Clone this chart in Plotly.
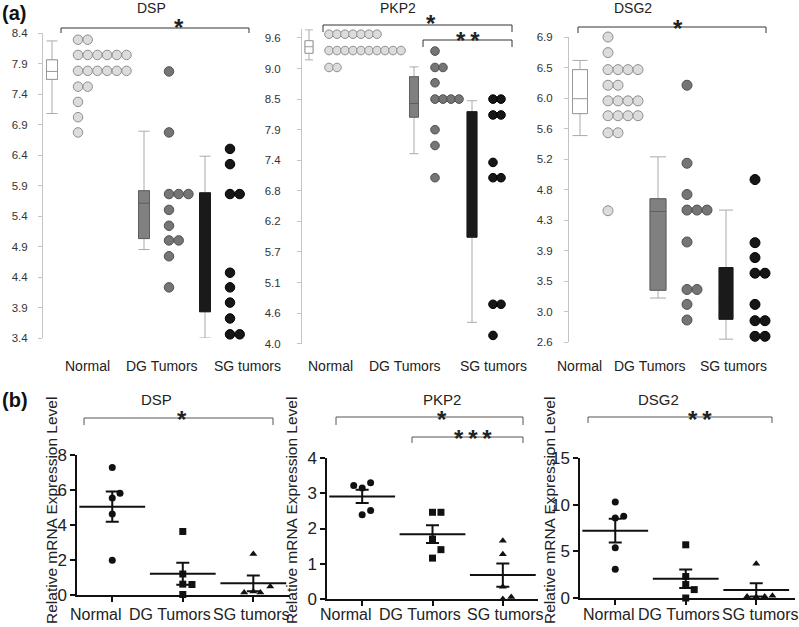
import plotly.graph_objects as go

W, H = 799, 627
def X(px): return px / W
def Y(py): return 1 - py / H

FONT = "Liberation Sans, Arial, sans-serif"
groups = ["Normal", "DG Tumors", "SG tumors"]
genes = ["DSP", "PKP2", "DSG2"]

# ---------------- Panel (a): dot rows (binned values) and counts ----------------
dsp_rows = [[8.29, 8.04, 7.78, 7.52, 7.27, 7.02, 6.77],
            [7.77, 6.77, 5.76, 5.50, 5.24, 5.00, 4.74, 4.23],
            [6.50, 6.25, 5.76, 4.47, 4.23, 3.98, 3.72, 3.46]]
dsp_counts = [[2, 6, 6, 2, 1, 1, 1], [1, 1, 3, 1, 1, 2, 1, 1], [1, 1, 2, 1, 1, 1, 1, 2]]

pkp2_rows = [[9.67, 9.37, 9.06],
             [9.36, 9.06, 8.78, 8.48, 7.92, 7.63, 7.04],
             [8.48, 8.19, 7.32, 7.04, 4.72, 4.15]]
pkp2_counts = [[7, 10, 2], [1, 2, 1, 4, 1, 1, 1], [2, 2, 1, 2, 2, 1]]

dsg2_rows = [[6.90, 6.68, 6.44, 6.22, 6.00, 5.79, 5.55, 4.45],
             [6.22, 5.12, 4.68, 4.46, 4.01, 3.34, 3.13, 2.91],
             [4.89, 4.00, 3.79, 3.57, 3.13, 2.90, 2.68]]
dsg2_counts = [[1, 1, 4, 2, 4, 4, 2, 1], [1, 1, 1, 3, 1, 2, 1, 1], [1, 1, 1, 2, 1, 2, 2]]

# box statistics: lower whisker, q1, median, q3, upper whisker
dsp_box = [[7.08, 7.64, 7.77, 7.96, 8.27], [4.85, 5.03, 5.61, 5.815, 6.79], [3.40, 3.83, 4.07, 5.78, 6.38]]
pkp2_box = [[9.20, 9.32, 9.44, 9.55, 9.75], [7.48, 8.15, 8.40, 8.89, 9.07], [4.39, 5.95, 7.50, 8.25, 8.45]]
dsg2_box = [[5.51, 5.82, 6.03, 6.44, 6.57], [3.22, 3.33, 4.44, 4.62, 5.21], [2.64, 2.92, 3.24, 3.65, 4.46]]

# y tick labels of panel (a)
dsp_ticks = ["3.4", "3.9", "4.4", "4.9", "5.4", "5.9", "6.4", "6.9", "7.4", "7.9", "8.4"]
pkp2_ticks = ["4.0", "4.6", "5.1", "5.7", "6.2", "6.8", "7.4", "7.9", "8.5", "9.0", "9.6"]
dsg2_ticks = ["2.6", "3.0", "3.5", "3.9", "4.3", "4.8", "5.2", "5.6", "6.0", "6.5", "6.9"]
a_ranges = [(3.4, 0.5), (4.0, 0.56), (2.6, 0.43)]  # start, step of tick grid
a_top_extra = [0.0, 0.16, 0.0]                      # axis line continues above top tick

# ---------------- Panel (b): qPCR values ----------------
dsp_b = [[7.28, 5.82, 5.54, 4.63, 1.98], [3.63, 1.20, 0.62, 0.60, 0.03], [2.35, 0.15, 0.20, 0.15, 0.48]]
pkp2_b = [[3.22, 3.15, 3.30, 2.39, 2.51], [2.46, 2.46, 1.70, 1.40, 1.16], [1.65, 1.27, 0.35, 0.00, 0.06]]
dsg2_b = [[10.29, 8.57, 8.75, 5.39, 3.07], [5.70, 2.30, 1.45, 0.90, 0.00], [3.68, 0.15, 0.10, 0.15, 0.25]]
dsp_mean, dsp_sem = [5.05, 1.22, 0.67], [0.87, 0.63, 0.45]
pkp2_mean, pkp2_sem = [2.91, 1.84, 0.68], [0.19, 0.25, 0.33]
dsg2_mean, dsg2_sem = [7.21, 2.07, 0.87], [1.27, 0.99, 0.71]
b_yticks = [[0, 2, 4, 6, 8], [0, 1, 2, 3, 4], [0, 5, 10, 15]]
b_ymax = [8, 4, 15]

# ---------------- styling / layout ----------------
dot_fill = ["#dcdcdc", "#757575", "#161616"]
dot_line = ["#8e8e8e", "#505050", "#000000"]
box_fill = ["#ffffff", "#808080", "#1a1a1a"]
box_line = ["#999999", "#5e5e5e", "#1a1a1a"]
whisk_col = "#aaaaaa"

# top panels: axis-line x, right edge, y of top tick, y of bottom tick (px)
a_geo = [(43, 262, 33, 338), (302, 522, 38, 343.6), (569, 790, 37, 342)]
a_standoff = [8, 14, 9]
a_box_x = [[9, 101, 162], [7, 112, 170], [11, 89, 157]]
a_dot_x = [[35, 126, 187], [27, 133, 191], [39, 118, 186]]
a_dot_step = [9.7, 8.0, 10.0]
a_dot_size = [9.5, 8.6, 10]
a_box_w = [[11, 11, 11], [8, 9, 10], [15, 16, 14]]

b_geo = [(77, 290, 455, 595, 2.52), (327, 538, 458, 599, 2.5), (580, 795, 458, 598, 2.55)]
b_offsets = [[[0, 0.11, 0, 0, 0], [0, 0, 0, 0.13, 0], [0, -0.13, 0, 0.1, 0.24]],
             [[-0.12, 0, 0.12, 0, 0.12], [0, 0.12, 0, 0.12, 0], [0, 0, 0, 0, 0.12]],
             [[0, 0, 0.12, 0, 0], [0, 0, 0, 0.12, 0], [0, -0.13, 0, 0.12, 0.23]]]
symbols = ["circle", "square", "triangle-up"]

fig = go.Figure()
layout = dict(template="none", width=W, height=H,
              margin=dict(l=0, r=0, t=0, b=0, autoexpand=False),
              paper_bgcolor="white", plot_bgcolor="rgba(0,0,0,0)",
              showlegend=False, font=dict(family=FONT, color="#222"), boxmode="overlay")
annotations, shapes = [], []

a_rows = [dsp_rows, pkp2_rows, dsg2_rows]
a_counts = [dsp_counts, pkp2_counts, dsg2_counts]
a_boxes = [dsp_box, pkp2_box, dsg2_box]
a_ticks = [dsp_ticks, pkp2_ticks, dsg2_ticks]

for p in range(3):
    xa, ya = f"x{p+1}", f"y{p+1}"
    x0, x1, yt, yb = a_geo[p]
    start, step = a_ranges[p]
    tickvals = [start + k * step for k in range(len(a_ticks[p]))]
    top = tickvals[-1] + a_top_extra[p]
    pxper = (yb - yt) / (tickvals[-1] - tickvals[0])
    ytop_px = yt - a_top_extra[p] * pxper
    layout[f"xaxis{p+1}"] = dict(domain=[X(x0), X(x1)], range=[0, x1 - x0], visible=False,
                                 anchor=ya, fixedrange=True, automargin=False)
    layout[f"yaxis{p+1}"] = dict(domain=[Y(yb), Y(ytop_px)], range=[tickvals[0], top],
                                 anchor=xa, showline=True, linecolor="#c4c4c4", linewidth=1,
                                 ticks="outside", ticklen=4, tickcolor="#c4c4c4",
                                 ticklabelstandoff=a_standoff[p],
                                 tickvals=tickvals, ticktext=a_ticks[p], showgrid=False,
                                 zeroline=False, automargin=False,
                                 tickfont=dict(size=11.5, color="#333"))
    for g in range(3):
        lo, q1, med, q3, hi = a_boxes[p][g]
        bx = a_box_x[p][g]
        bw = a_box_w[p][g]
        # whiskers
        fig.add_trace(go.Box(x=[bx], q1=[q1], median=[med], q3=[q3], lowerfence=[lo],
                             upperfence=[hi], width=bw, whiskerwidth=1,
                             line=dict(color=whisk_col, width=1), fillcolor=box_fill[g],
                             xaxis=xa, yaxis=ya, hoverinfo="skip"))
        # body
        fig.add_trace(go.Box(x=[bx], q1=[q1], median=[med], q3=[q3], lowerfence=[q1],
                             upperfence=[q3], width=bw, whiskerwidth=0,
                             line=dict(color=box_line[g], width=1), fillcolor=box_fill[g],
                             xaxis=xa, yaxis=ya, hoverinfo="skip"))
        xs, ys = [], []
        for val, n in zip(a_rows[p][g], a_counts[p][g]):
            for k in range(n):
                xs.append(a_dot_x[p][g] + k * a_dot_step[p])
                ys.append(val)
        fig.add_trace(go.Scatter(x=xs, y=ys, mode="markers", xaxis=xa, yaxis=ya,
                                 cliponaxis=False,
                                 marker=dict(size=a_dot_size[p], color=dot_fill[g],
                                             line=dict(color=dot_line[g], width=1))))

# top category labels
a_lab_x = [[87, 162, 247], [330, 405, 493], [579, 650, 733]]
for p in range(3):
    for g in range(3):
        annotations.append(dict(x=X(a_lab_x[p][g]), y=Y(366), xref="paper", yref="paper",
                                text=groups[g], showarrow=False, font=dict(size=14, color="#222"),
                                xanchor="center", yanchor="middle"))
# top titles
for txt, px in zip(genes, [151, 398, 633]):
    annotations.append(dict(x=X(px), y=Y(8), xref="paper", yref="paper", text=txt,
                            showarrow=False, font=dict(size=14, color="#222"),
                            xanchor="center", yanchor="middle"))

b_vals = [dsp_b, pkp2_b, dsg2_b]
b_means = [dsp_mean, pkp2_mean, dsg2_mean]
b_sems = [dsp_sem, pkp2_sem, dsg2_sem]
for p in range(3):
    i = p + 4
    xa, ya = f"x{i}", f"y{i}"
    x0, x1, yt, yb, xmax = b_geo[p]
    layout[f"xaxis{i}"] = dict(domain=[X(x0), X(x1)], range=[-0.5, xmax], anchor=ya,
                               showline=True, linecolor="#111", linewidth=1.5,
                               ticks="outside", ticklen=5, tickwidth=1.5, tickcolor="#111",
                               tickvals=[0, 1, 2], showticklabels=False, showgrid=False,
                               zeroline=False, automargin=False)
    layout[f"yaxis{i}"] = dict(domain=[Y(yb), Y(yt)], range=[0, b_ymax[p]], anchor=xa,
                               showline=True, linecolor="#111", linewidth=1.5,
                               ticks="outside", ticklen=5, tickwidth=1.5, tickcolor="#111",
                               tickvals=b_yticks[p], showgrid=False, zeroline=False,
                               automargin=False, tickfont=dict(size=17, color="#222"))
    for g in range(3):
        xs = [g + o for o in b_offsets[p][g]]
        fig.add_trace(go.Scatter(x=xs, y=b_vals[p][g], mode="markers", xaxis=xa, yaxis=ya,
                                 cliponaxis=False,
                                 marker=dict(symbol=symbols[g], size=7, color="#111")))
    fig.add_trace(go.Scatter(x=[0, 1, 2], y=b_means[p], mode="markers", xaxis=xa, yaxis=ya,
                             cliponaxis=False,
                             marker=dict(symbol="line-ew", size=47, color="#111",
                                         line=dict(color="#111", width=2)),
                             error_y=dict(type="data", array=b_sems[p], color="#111",
                                          thickness=2, width=6.5)))

# bottom category labels
b_lab_x = [[96, 170, 251], [346, 420, 505], [609, 679, 760]]
for p in range(3):
    for g in range(3):
        annotations.append(dict(x=X(b_lab_x[p][g]), y=Y(614), xref="paper", yref="paper",
                                text=groups[g], showarrow=False, font=dict(size=16, color="#222"),
                                xanchor="center", yanchor="middle"))
# bottom titles & y titles
for txt, px in zip(genes, [156, 442, 658]):
    annotations.append(dict(x=X(px), y=Y(399), xref="paper", yref="paper", text=txt,
                            showarrow=False, font=dict(size=15, color="#222"),
                            xanchor="center", yanchor="middle"))
for px in [51, 291, 549]:
    annotations.append(dict(x=X(px), y=Y(511), xref="paper", yref="paper",
                            text="Relative mRNA Expression Level", textangle=-90,
                            showarrow=False, font=dict(size=15.5, color="#222"),
                            xanchor="center", yanchor="middle"))

# panel letters
annotations.append(dict(x=X(0), y=Y(13), xref="paper", yref="paper", text="<b>(a)</b>",
                        showarrow=False, font=dict(size=20, color="#111"), xanchor="left", yanchor="middle"))
annotations.append(dict(x=X(0), y=Y(400), xref="paper", yref="paper", text="<b>(b)</b>",
                        showarrow=False, font=dict(size=20, color="#111"), xanchor="left", yanchor="middle"))

# significance brackets: x-left, x-right, y-top, y-bottom, stars, label-x, label-y, color
brackets = [(61, 249, 28, 33, 1, 179, 20, "#333"),
            (323, 512, 25, 32, 1, 431, 17, "#333"),
            (423, 512, 40, 47, 2, 468, 34, "#333"),
            (578, 766, 27, 33, 1, 678, 21, "#333"),
            (84, 273, 418, 425, 1, 182, 412, "#555"),
            (336, 523, 417, 425, 1, 442, 412, "#555"),
            (412, 523, 437, 443, 3, 473, 431, "#555"),
            (588, 772, 417, 423, 2, 700, 412, "#555")]
for xl, xr, yt, yb, nstar, lx, ly, col in brackets:
    shapes.append(dict(type="path", xref="paper", yref="paper",
                       path=f"M {X(xl)},{Y(yb)} L {X(xl)},{Y(yt)} L {X(xr)},{Y(yt)} L {X(xr)},{Y(yb)}",
                       line=dict(color=col, width=1)))
    label = "\u2009".join(["*"] * nstar)
    annotations.append(dict(x=X(lx), y=Y(ly + 7), xref="paper", yref="paper", text=f"<b>{label}</b>",
                            showarrow=False, font=dict(size=24, color="#222"),
                            xanchor="center", yanchor="middle"))

layout["annotations"] = annotations
layout["shapes"] = shapes
fig.update_layout(**layout)
fig.write_html("out.html", config={"displayModeBar": False},
               post_script="document.body.style.margin='0';document.body.style.padding='0';")
